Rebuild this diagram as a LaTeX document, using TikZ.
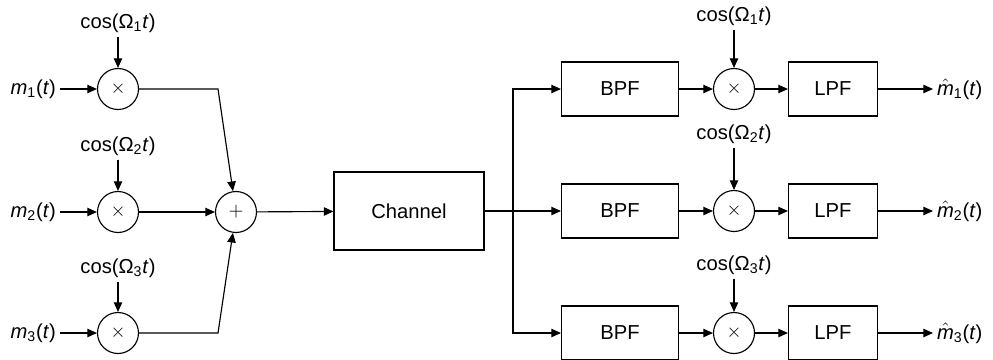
\documentclass[tikz,border=0pt]{standalone}
\usepackage{fontspec}
\setmainfont{Liberation Sans}
\usetikzlibrary{arrows.meta}

\newcommand{\sig}[1]{\textit{m}\textsubscript{#1}(\textit{t})}
\newcommand{\sighat}[1]{$\hat{\hbox{\textit{m}}}$\textsubscript{#1}(\textit{t})}
\newcommand{\carrier}[1]{cos(Ω\textsubscript{#1}\textit{t})}

\tikzset{
  mult/.style={draw, circle, minimum size=0.82cm, inner sep=0pt, font=\fontsize{11}{12}\selectfont},
  filt/.style={draw, rectangle, minimum width=2.34cm, minimum height=1.08cm},
  arr/.style={-{Triangle[length=5.5pt,width=4.8pt]}},
  lbl/.style={inner sep=2pt},
}

\begin{document}
\begin{tikzpicture}[x=0.02cm, y=-0.02cm, line width=0.65pt, font=\fontsize{11.5}{14}\selectfont]

\useasboundingbox (0,0) rectangle (993,359);

% Entrées
\node[lbl, anchor=east] (m1) at (60,89) {\sig{1}};
\node[lbl, anchor=east] (m2) at (60,212) {\sig{2}};
\node[lbl, anchor=east] (m3) at (60,333) {\sig{3}};

% Modulateurs
\node[mult] (x1) at (118,89) {$\times$};
\node[mult] (x2) at (118,212) {$\times$};
\node[mult] (x3) at (118,333) {$\times$};
\node[lbl] (c1) at (118,23) {\carrier{1}};
\node[lbl] (c2) at (118,146) {\carrier{2}};
\node[lbl] (c3) at (118,268) {\carrier{3}};

% Sommateur
\node[mult] (add) at (236,212) {$+$};
\coordinate (k1) at (218,89);
\coordinate (k3) at (218,333);

% Canal
\node[draw, minimum width=3cm, minimum height=1.56cm] (ch) at (409,211) {Channel};
\coordinate (s2) at (513,211);

% Filtres passe-bande
\node[filt] (b1) at (620,89) {BPF};
\node[filt] (b2) at (620,211) {BPF};
\node[filt] (b3) at (620,333) {BPF};

% Démodulateurs
\node[mult] (y1) at (734,89) {$\times$};
\node[mult] (y2) at (734,211) {$\times$};
\node[mult] (y3) at (734,333) {$\times$};
\node[lbl] (d1) at (734,16) {\carrier{1}};
\node[lbl] (d2) at (734,134) {\carrier{2}};
\node[lbl] (d3) at (734,265) {\carrier{3}};

% Filtres passe-bas
\node[filt, minimum width=1.78cm] (l1) at (833,89) {LPF};
\node[filt, minimum width=1.78cm] (l2) at (833,211) {LPF};
\node[filt, minimum width=1.78cm] (l3) at (833,333) {LPF};

% Sorties
\node[lbl, anchor=west] (o1) at (933,89) {\sighat{1}};
\node[lbl, anchor=west] (o2) at (933,211) {\sighat{2}};
\node[lbl, anchor=west] (o3) at (933,333) {\sighat{3}};

% Liaisons émetteur
\draw[arr] (m1) -- (x1);
\draw[arr] (m2) -- (x2);
\draw[arr] (m3) -- (x3);
\draw[arr] (c1) -- (x1);
\draw[arr] (c2) -- (x2);
\draw[arr] (c3) -- (x3);
\draw[arr] (x1) -- (k1) -- (add);
\draw[arr] (x2) -- (add);
\draw[arr] (x3) -- (k3) -- (add);
\draw[arr] (add) -- (ch);

% Liaisons récepteur
\draw (ch) -- (s2);
\draw[arr] (s2) |- (b1);
\draw[arr] (s2) -- (b2);
\draw[arr] (s2) |- (b3);
\draw[arr] (b1) -- (y1);
\draw[arr] (b2) -- (y2);
\draw[arr] (b3) -- (y3);
\draw[arr] (d1) -- (y1);
\draw[arr] (d2) -- (y2);
\draw[arr] (d3) -- (y3);
\draw[arr] (y1) -- (l1);
\draw[arr] (y2) -- (l2);
\draw[arr] (y3) -- (l3);
\draw[arr] (l1) -- (o1);
\draw[arr] (l2) -- (o2);
\draw[arr] (l3) -- (o3);

\end{tikzpicture}
\end{document}
